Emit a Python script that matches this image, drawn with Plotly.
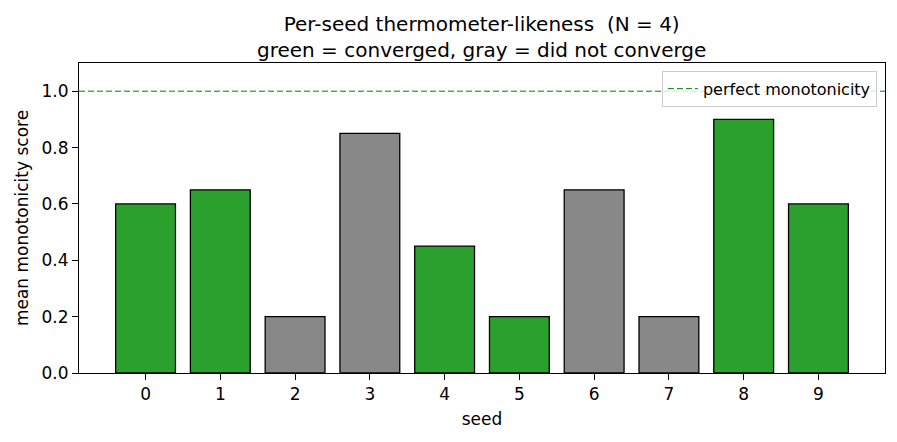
import plotly.graph_objects as go

seeds = [0, 1, 2, 3, 4, 5, 6, 7, 8, 9]
scores = [0.60, 0.65, 0.20, 0.85, 0.45, 0.20, 0.65, 0.20, 0.90, 0.60]
converged = [True, True, False, False, True, True, False, False, True, True]
perfect = 1.0

colors = ['#2ca02c' if c else '#888888' for c in converged]

fig = go.Figure()
fig.add_trace(go.Bar(x=seeds, y=scores, width=0.8,
                     marker=dict(color=colors, line=dict(color='black', width=1.3)),
                     showlegend=False))
# legend entry for the reference line
fig.add_trace(go.Scatter(x=[None], y=[None], mode='lines', name='perfect monotonicity',
                         line=dict(color='green', width=1, dash='6px,3px')))
fig.add_hline(y=perfect, line=dict(color='green', width=1, dash='6px,3px'))

fig.update_xaxes(title_text='seed', range=[-0.89, 9.89], tickmode='array', tickvals=seeds,
                 showline=True, mirror=True, linecolor='black', linewidth=1,
                 ticks='outside', ticklen=6, tickcolor='black', showgrid=False, zeroline=False,
                 tickfont=dict(size=17), title_font=dict(size=17), title_standoff=9)
fig.update_yaxes(title_text='mean monotonicity score', range=[0, 1.1], dtick=0.2, tickformat='.1f',
                 showline=True, mirror=True, linecolor='black', linewidth=1,
                 ticks='outside', ticklen=6, tickcolor='black', showgrid=False, zeroline=False,
                 tickfont=dict(size=17), title_font=dict(size=17), title_standoff=8)
fig.update_layout(
    width=897, height=442,
    margin=dict(l=79, r=12, t=63, b=69),
    plot_bgcolor='white', paper_bgcolor='white',
    font=dict(family='DejaVu Sans', size=17, color='black'),
    title=dict(text='Per-seed thermometer-likeness  (N = 4)<br>green = converged, gray = did not converge',
               x=0.537, xanchor='center', yref='container', y=0.93, yanchor='top', font=dict(size=20)),
    legend=dict(x=0.99, y=0.975, xanchor='right', yanchor='top', bgcolor='rgba(255,255,255,0.8)',
                bordercolor='#cccccc', borderwidth=1, font=dict(size=16),
                tracegroupgap=0, itemwidth=30),
    bargap=0.2,
)
fig.write_html("out.html", config={'displayModeBar': False},
               post_script="document.body.style.margin='0';")
